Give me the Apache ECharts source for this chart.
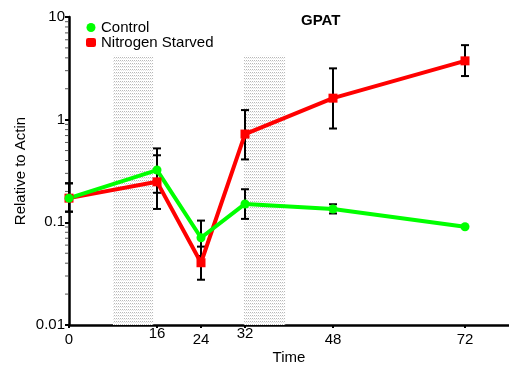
<!DOCTYPE html>
<html>
<head>
<meta charset="utf-8">
<script src="https://cdn.jsdelivr.net/npm/echarts@6/dist/echarts.min.js"></script>
<style>
  html, body { margin: 0; padding: 0; background: #fff; }
  #chart { width: 509px; height: 371px; }
</style>
</head>
<body>
<div id="chart"></div>
<script>
// time points (hours)
const times = [0, 16, 24, 32, 48, 72];
const xTickLabels = [0, 16, 24, 32, 48, 72];
const raisedLabels = [16, 32];

// mean relative expression
const controlMean = [0.172, 0.323, 0.0708, 0.151, 0.135, 0.0906];
const starvedMean = [0.172, 0.248, 0.0404, 0.724, 1.62, 3.74];

// error bar ends [low, high], null = no bar
const controlLow  = [0.127, 0.194, 0.047, 0.108, 0.122, null];
const controlHigh = [0.24, 0.525, 0.104, 0.21, 0.15, null];
const starvedLow  = [0.127, 0.135, 0.0276, 0.41, 0.82, 2.66];
const starvedHigh = [0.24, 0.45, 0.058, 1.24, 3.16, 5.32];

// shaded periods (hours)
const shadeStart = [8, 31.8];
const shadeEnd = [15.3, 39.3];
const shadeTop = 4.2;

const yTickLabels = [0.01, 0.1, 1, 10];
const minorMult = [2, 3, 4, 5, 6, 7, 8, 9];
const minorDecades = [0.01, 0.1, 1];

function errData(low, high) {
    const out = [];
    times.forEach((t, i) => {
        if (low[i] != null) out.push([t, low[i], high[i]]);
    });
    return out;
}

function errRender(params, api) {
    const x = api.value(0);
    const lo = api.coord([x, api.value(1)]);
    const hi = api.coord([x, api.value(2)]);
    const w = 4;
    const style = { stroke: '#000', lineWidth: 2 };
    return {
        type: 'group',
        children: [
            { type: 'line', shape: { x1: lo[0], y1: lo[1], x2: hi[0], y2: hi[1] }, style: style },
            { type: 'line', shape: { x1: lo[0] - w, y1: lo[1], x2: lo[0] + w, y2: lo[1] }, style: style },
            { type: 'line', shape: { x1: hi[0] - w, y1: hi[1], x2: hi[0] + w, y2: hi[1] }, style: style }
        ]
    };
}

const minorData = [];
minorDecades.forEach(d => minorMult.forEach(m => minorData.push([0, d * m])));

function minorRender(params, api) {
    const p = api.coord([0, api.value(1)]);
    return {
        type: 'line',
        shape: { x1: p[0] - 4, y1: p[1], x2: p[0] - 1, y2: p[1] },
        style: { stroke: '#555', lineWidth: 1 }
    };
}

// dotted fill for shaded areas
const pat = document.createElement('canvas');
pat.width = 2; pat.height = 3;
const pctx = pat.getContext('2d');
pctx.fillStyle = '#fff';
pctx.fillRect(0, 0, 2, 3);
pctx.fillStyle = '#b8b8b8';
pctx.fillRect(0, 0, 1, 1);
pctx.fillStyle = '#e4e4e4';
pctx.fillRect(1, 1, 1, 1);

const font = 'Liberation Sans, Arial, sans-serif';

const option = {
    animation: false,
    title: {
        text: 'GPAT',
        left: 296,
        top: 8,
        textStyle: { fontFamily: font, fontSize: 15, fontWeight: 'bold', color: '#000' }
    },
    legend: {
        data: [
            { name: 'Control', icon: 'circle' },
            { name: 'Nitrogen Starved', icon: 'roundRect' }
        ],
        orient: 'vertical',
        left: 81,
        top: 15,
        itemGap: 0,
        itemWidth: 10,
        itemHeight: 9,
        textStyle: { fontFamily: font, fontSize: 15, color: '#000', padding: [0, 0, 0, 0] }
    },
    grid: { left: 69, right: 0, top: 17, bottom: 46, containLabel: false },
    xAxis: {
        type: 'value',
        min: 0,
        max: 80,
        name: 'Time',
        nameLocation: 'middle',
        nameGap: 25,
        nameMoveOverlap: false,
        nameTextStyle: { fontFamily: font, fontSize: 15, color: '#000' },
        axisLine: { lineStyle: { color: '#000', width: 2.5 } },
        axisTick: { show: true, customValues: xTickLabels, length: 3, lineStyle: { color: '#000', width: 2 } },
        axisLabel: {
            customValues: xTickLabels,
            margin: 1,
            fontFamily: font,
            fontSize: 15,
            color: '#000',
            formatter: v => raisedLabels.indexOf(v) >= 0 ? '{u|' + v + '}' : '{n|' + v + '}',
            rich: {
                u: { fontFamily: font, fontSize: 15, color: '#000' },
                n: { fontFamily: font, fontSize: 15, color: '#000', padding: [6, 0, 0, 0] }
            }
        },
        splitLine: { show: false }
    },
    yAxis: {
        type: 'log',
        logBase: 10,
        min: 0.01,
        max: 10,
        name: 'Relative to Actin',
        nameLocation: 'middle',
        nameGap: 41,
        nameMoveOverlap: false,
        nameTextStyle: { fontFamily: font, fontSize: 15, color: '#000' },
        axisLine: { show: true, lineStyle: { color: '#000', width: 2.5 } },
        axisTick: { show: true, length: 4, lineStyle: { color: '#000', width: 2 } },
        axisLabel: {
            margin: 4,
            fontFamily: font,
            fontSize: 15,
            color: '#000',
            formatter: v => {
                const hit = yTickLabels.find(t => Math.abs(t - v) / t < 1e-6);
                return hit !== undefined ? String(hit) : '';
            }
        },
        splitLine: { show: false }
    },
    series: [
        {
            type: 'custom',
            name: 'shade',
            silent: true,
            data: [],
            renderItem: () => null,
            markArea: {
                silent: true,
                itemStyle: { color: { image: pat, repeat: 'repeat' } },
                data: shadeStart.map((s, i) => [
                    { xAxis: s, yAxis: 0.01 },
                    { xAxis: shadeEnd[i], yAxis: shadeTop }
                ])
            },
            z: 0
        },
        {
            type: 'custom',
            name: 'minorTicks',
            silent: true,
            data: minorData,
            renderItem: minorRender,
            clip: false,
            z: 3
        },
        {
            type: 'custom',
            name: 'errStarved',
            silent: true,
            data: errData(starvedLow, starvedHigh),
            renderItem: errRender,
            clip: false,
            z: 1
        },
        {
            type: 'custom',
            name: 'errControl',
            silent: true,
            data: errData(controlLow, controlHigh),
            renderItem: errRender,
            clip: false,
            z: 1
        },
        {
            name: 'Nitrogen Starved',
            type: 'line',
            data: times.map((t, i) => [t, starvedMean[i]]),
            symbol: 'rect',
            symbolSize: 9,
            itemStyle: { color: '#ff0000' },
            lineStyle: { color: '#ff0000', width: 4 },
            z: 2
        },
        {
            name: 'Control',
            type: 'line',
            data: times.map((t, i) => [t, controlMean[i]]),
            symbol: 'circle',
            symbolSize: 9,
            itemStyle: { color: '#00ff00' },
            lineStyle: { color: '#00ff00', width: 4 },
            z: 2
        }
    ]
};

const chart = echarts.init(document.getElementById('chart'));
chart.setOption(option);
window.addEventListener('resize', function () {
    chart.resize();
});
</script>
</body>
</html>
